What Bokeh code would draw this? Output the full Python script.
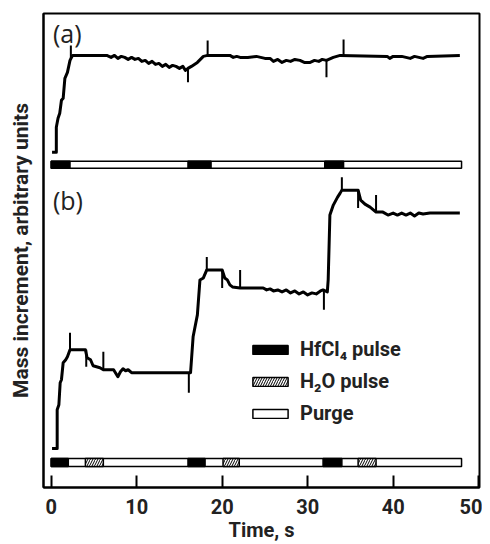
from bokeh.plotting import figure
from bokeh.models import Range1d, Legend, LegendItem, Label, FixedTicker
from bokeh.embed import file_html
from bokeh.resources import INLINE

# ---------------- data ----------------
# panel (a): HfCl4 pulses + purge only
a_time = [0.1, 0.6, 0.6, 0.8, 1.0, 1.2, 1.4, 1.6, 1.9, 2.2,
          2.5, 6.5, 7.0, 7.4, 7.8, 8.2, 8.6, 9.0, 9.4, 9.8,
          10.2, 10.6, 11.0, 11.4, 11.8, 12.2, 12.6, 13.0, 13.4, 13.8,
          14.2, 14.6, 15.0, 15.4, 15.7, 16.0, 16.4, 17.1, 17.8, 18.3,
          20.9, 21.3, 21.7, 22.1, 23.0, 24.0, 25.0, 25.6, 26.0, 26.5,
          27.0, 27.5, 28.0, 28.5, 29.1, 29.6, 30.3, 30.8, 31.3, 31.7,
          32.2, 33.0, 33.8, 39.3, 39.6, 40.0, 41.0, 41.5, 42.0, 42.5,
          43.0, 43.5, 44.0, 47.8]
a_mass = [336, 336, 361, 370, 375, 388, 390, 410, 416, 428,
          433, 433, 431, 433, 430, 432, 431, 429, 431, 429,
          430, 427, 428, 425, 427, 424, 425, 422, 424, 421,
          423, 422, 420, 422, 418, 420, 422, 426, 432, 433,
          433, 431, 432, 431, 431, 432, 430, 430, 427, 429,
          426, 428, 427, 429, 428, 426, 426, 428, 427, 429,
          428, 431, 433, 432, 430, 432, 432, 431, 430, 432,
          431, 430, 432, 433]

# panel (b): HfCl4 pulse, purge, H2O pulse, purge
b_time = [0.1, 0.7, 0.7, 0.9, 1.05, 1.2, 1.4, 1.7, 1.9, 2.2,
          4.0, 4.2, 4.6, 4.9, 5.3, 5.7, 6.1, 7.3, 7.8, 8.1,
          8.4, 8.7, 9.0, 9.4, 16.3, 16.6, 17.1, 17.4, 17.8, 18.2,
          20.0, 20.3, 20.6, 20.9, 21.2, 22.1, 24.8, 25.2, 25.6, 26.0,
          26.5, 27.0, 27.5, 28.0, 28.5, 29.0, 29.5, 30.0, 30.5, 31.0,
          31.5, 31.8, 32.3, 32.4, 32.6, 33.0, 33.5, 33.8, 34.0, 35.9,
          36.2, 36.7, 37.3, 38.0, 38.8, 39.4, 40.0, 40.5, 41.0, 41.5,
          42.0, 42.5, 43.0, 43.5, 44.3, 47.8]
b_mass = [39, 39, 78, 83, 105, 108, 125, 128, 131, 138,
          138, 130, 128, 122, 121, 120, 118, 118, 111, 116,
          119, 117, 118, 115, 115, 151, 173, 208, 210, 218,
          218, 210, 208, 203, 201, 200, 200, 198, 199, 197,
          198, 196, 198, 195, 197, 194, 196, 193, 195, 194,
          197, 198, 196, 208, 273, 283, 291, 295, 298, 298,
          288, 284, 281, 276, 276, 273, 275, 273, 275, 273,
          275, 272, 275, 274, 275, 275]

# valve-switch event marks on the traces (time, low, high)
mark_time = [2.3, 16.0, 18.3, 32.2, 34.2,
             2.2, 4.1, 6.1, 16.1, 18.2, 20.0, 22.1, 31.9, 34.0, 35.9, 38.0]
mark_low = [430, 406, 433, 411, 433,
            138, 121, 118, 95, 218, 200, 200, 178, 298, 280, 276]
mark_high = [443, 420, 448, 428, 449,
             155, 138, 136, 115, 231, 218, 218, 198, 311, 298, 293]

# pulse sequences (s)
purge_start = [0, 0]
purge_end = [48, 48]
hf_start = [0, 16.0, 32.0, 0, 16.0, 31.8]
hf_end = [2.2, 18.7, 34.2, 2.0, 18.0, 34.0]
hf_panel = [0, 0, 0, 1, 1, 1]
h2o_start = [4.0, 20.1, 35.9]
h2o_end = [6.1, 22.0, 38.0]
h2o_panel = [1, 1, 1]

x_ticks = [0, 10, 20, 30, 40, 50]
legend_labels = ["HfCl\u2084 pulse", "H\u2082O pulse", "Purge"]

# ---------------- layout / style ----------------
FONT = "Roboto"
TXT = "#222222"
bar_bottom = [320, 21]
bar_top = [327, 29]

p = figure(width=482, height=544, output_backend="svg", toolbar_location=None,
           x_range=Range1d(-0.9, 50.1), y_range=Range1d(0, 475),
           min_border_left=43, min_border_right=3, min_border_top=13,
           min_border_bottom=56)
p.xgrid.visible = False
p.ygrid.visible = False
p.outline_line_color = "black"
p.outline_line_width = 2
p.outline_line_alpha = 1
p.background_fill_color = "white"

p.xaxis.ticker = FixedTicker(ticks=x_ticks)
p.xaxis.major_tick_in = 12
p.xaxis.major_tick_out = 0
p.xaxis.major_tick_line_width = 2
p.xaxis.minor_tick_line_color = None
p.xaxis.axis_line_width = 2
p.xaxis.major_label_text_font = FONT
p.xaxis.major_label_text_font_size = "20px"
p.xaxis.major_label_text_font_style = "bold"
p.xaxis.major_label_text_color = TXT
p.xaxis.major_label_text_line_height = 1.0
p.xaxis.major_label_standoff = 11
p.xaxis.axis_label = "Time, s"
p.xaxis.axis_label_text_font = FONT
p.xaxis.axis_label_text_font_size = "20px"
p.xaxis.axis_label_text_font_style = "bold"
p.xaxis.axis_label_text_color = TXT
p.xaxis.axis_label_text_line_height = 1.0
p.xaxis.axis_label_standoff = 1

p.yaxis.ticker = FixedTicker(ticks=[])
p.yaxis.major_tick_line_color = None
p.yaxis.minor_tick_line_color = None
p.yaxis.axis_line_width = 2
p.yaxis.axis_label = "Mass increment, arbitrary units"
p.yaxis.axis_label_text_font = FONT
p.yaxis.axis_label_text_font_size = "21px"
p.yaxis.axis_label_text_font_style = "bold"
p.yaxis.axis_label_text_color = TXT
p.yaxis.axis_label_standoff = 11

# pulse bars
r_purge = p.quad(left=purge_start, right=purge_end, bottom=bar_bottom, top=bar_top,
                 fill_color="white", line_color="black", line_width=1.5)
r_hf = p.quad(left=hf_start, right=hf_end,
              bottom=[bar_bottom[i] for i in hf_panel], top=[bar_top[i] for i in hf_panel],
              fill_color="black", line_color="black", line_width=1.5)
r_h2o = p.quad(left=h2o_start, right=h2o_end,
               bottom=[bar_bottom[i] for i in h2o_panel], top=[bar_top[i] for i in h2o_panel],
               fill_color="white", line_color="black", line_width=1.5,
               hatch_pattern="/", hatch_color="black", hatch_scale=5, hatch_weight=1.0)

# traces
p.line(a_time, a_mass, line_color="black", line_width=3, line_join="round")
p.line(b_time, b_mass, line_color="black", line_width=3, line_join="round")
p.segment(x0=mark_time, y0=mark_low, x1=mark_time, y1=mark_high,
          line_color="black", line_width=2)

# panel labels
p.add_layout(Label(x=0.2, y=455, text="(a)", text_font="Open Sans",
                   text_font_size="25px", text_baseline="middle", text_color=TXT))
p.add_layout(Label(x=0.2, y=288, text="(b)", text_font="Open Sans",
                   text_font_size="25px", text_baseline="middle", text_color=TXT))

legend = Legend(items=[LegendItem(label=legend_labels[0], renderers=[r_hf]),
                       LegendItem(label=legend_labels[1], renderers=[r_h2o]),
                       LegendItem(label=legend_labels[2], renderers=[r_purge])],
                location=(205, 62), glyph_width=44, glyph_height=11,
                label_standoff=8, spacing=8, padding=0, margin=0,
                label_text_font=FONT, label_text_font_size="20px",
                label_text_font_style="bold", label_text_color=TXT,
                border_line_color=None, background_fill_alpha=0)
p.add_layout(legend)

open("out.html", "w").write(file_html(p, INLINE))
